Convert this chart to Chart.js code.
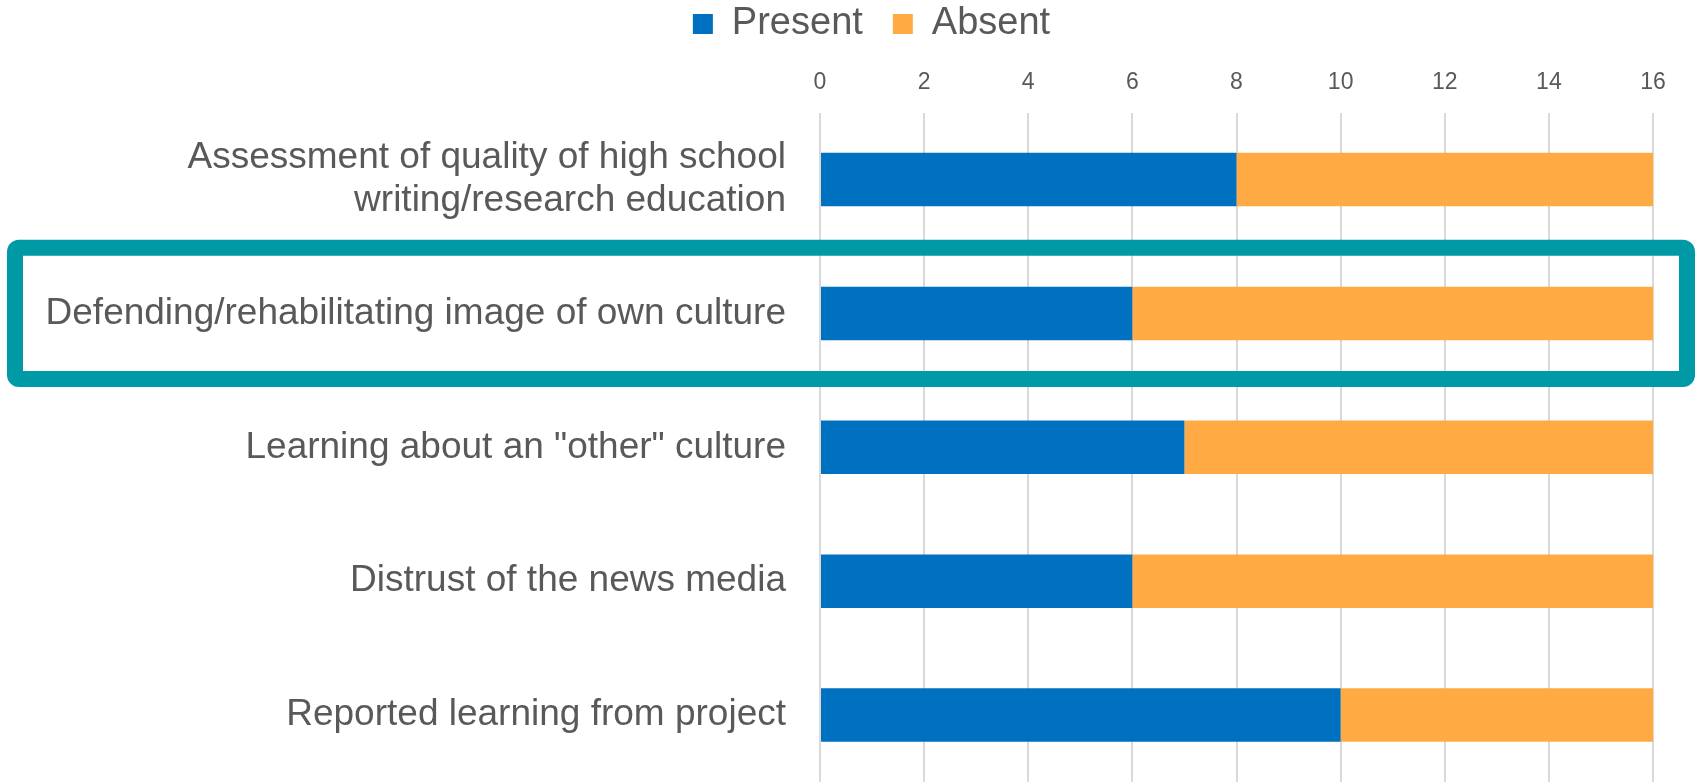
<!DOCTYPE html>
<html>
<head>
<meta charset="utf-8">
<script src="https://cdn.jsdelivr.net/npm/chart.js@4/dist/chart.umd.min.js"></script>
<style>
  html, body { margin: 0; padding: 0; background: #fff; }
  #wrap { width: 1696px; height: 782px; }
</style>
</head>
<body>
<div id="wrap"><canvas id="chartz" width="1696" height="782"></canvas></div>
<script>
'use strict'

// data
const categories = [
  ['Assessment of quality of high school', 'writing/research education'],
  'Defending/rehabilitating image of own culture',
  'Learning about an "other" culture',
  'Distrust of the news media',
  'Reported learning from project'
];
const present = [8, 6, 7, 6, 10];
const absent = [8, 10, 9, 10, 6];
const xTicks = [0, 2, 4, 6, 8, 10, 12, 14, 16];
const highlighted = 1;

const textGrey = '#595959';
const fontName = '"Liberation Sans", Arial, sans-serif';

//legend sits a bit right of the centre in the original
const legendShift = {
  id: 'legendShift',
  afterLayout(chart) {
    chart.legend.left += 45;
    chart.legend.right += 45;
  }
};

//teal frame round the highlighted row
const frame = {
  id: 'frame',
  afterDraw(chart) {
    const ctx = chart.ctx;
    const y = chart.scales.y;
    const mid = y.getPixelForValue(highlighted);
    const half = (y.getPixelForValue(1) - y.getPixelForValue(0)) * 0.49;
    const lw = 16;
    const left = lw / 2 + 7;
    const right = chart.width - lw / 2 - 1;
    ctx.save();
    ctx.strokeStyle = '#0099A6';
    ctx.lineWidth = lw;
    ctx.beginPath();
    ctx.roundRect(left, mid - half, right - left, half * 2, 4);
    ctx.stroke();
    ctx.restore();
  }
};

const data = {
  labels: categories,
  datasets: [{
    label: 'Present',
    data: present,
    backgroundColor: '#0070C0',
    barPercentage: 0.8,
    categoryPercentage: 0.5
  }, {
    label: 'Absent',
    data: absent,
    backgroundColor: '#FFAA42',
    barPercentage: 0.8,
    categoryPercentage: 0.5
  }]
};

const config = {
  type: 'bar',
  data: data,
  options: {
    indexAxis: 'y',
    responsive: false,
    animation: false,
    layout: { padding: { left: 0, right: 43, top: -25, bottom: 0 } },
    plugins: {
      legend: {
        position: 'top',
        labels: {
          color: textGrey,
          font: { family: fontName, size: 38 },
          boxWidth: 20,
          boxHeight: 20,
          padding: 30
        }
      },
      tooltip: { enabled: false }
    },
    scales: {
      x: {
        position: 'top',
        stacked: true,
        min: 0,
        max: 16,
        afterBuildTicks: (scale) => { scale.ticks = xTicks.map(v => ({ value: v })); },
        ticks: {
          color: textGrey,
          font: { family: fontName, size: 23 },
          padding: 16
        },
        grid: { color: '#D9D9D9', lineWidth: 2, drawTicks: false },
        border: { display: false }
      },
      y: {
        stacked: true,
        afterFit: (scale) => {
          scale.width = 820;
          scale.paddingTop = 0;
          scale.paddingBottom = 0;
        },
        ticks: {
          color: textGrey,
          font: { family: fontName, size: 37, lineHeight: 1.15 },
          padding: 34
        },
        grid: { display: false, drawTicks: false },
        border: { display: false }
      }
    }
  },
  plugins: [legendShift, frame]
};

new Chart(document.getElementById('chartz'), config);
</script>
</body>
</html>
